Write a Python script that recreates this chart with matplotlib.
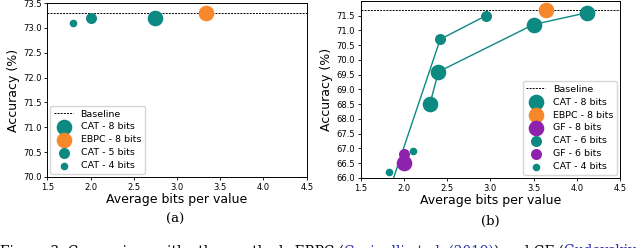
import matplotlib
matplotlib.use("Agg")
import matplotlib.pyplot as plt

teal = "#0c8a82"
orange = "#f7872b"
purple = "#8e22ad"

# panel (a)
a_baseline = 73.3
a_cat8_x, a_cat8_y = [2.75], [73.2]
a_ebpc8_x, a_ebpc8_y = [3.33], [73.3]
a_cat5_x, a_cat5_y = [2.0], [73.2]
a_cat4_x, a_cat4_y = [1.8], [73.1]

# panel (b)
b_baseline = 71.7
b_cat8_x = [2.3, 2.4, 3.5, 4.12]
b_cat8_y = [68.5, 69.6, 71.2, 71.6]
b_ebpc8_x, b_ebpc8_y = [3.64], [71.7]
b_gf8_x, b_gf8_y = [2.0], [66.5]
b_cat6_x = [1.8, 2.42, 2.95]
b_cat6_y = [65.3, 70.7, 71.5]
b_gf6_x, b_gf6_y = [2.0, 2.0], [66.8, 66.6]
b_cat4_x, b_cat4_y = [1.83, 2.1], [66.2, 66.9]

s_big, s_mid, s_small = 105, 48, 20

fig = plt.figure(figsize=(6.4, 2.48), dpi=100)
ax1 = fig.add_axes([0.0742, 0.2863, 0.405, 0.7016])
ax2 = fig.add_axes([0.5636, 0.2823, 0.405, 0.714])

ax1.axhline(a_baseline, color="k", ls="--", lw=0.7, dashes=(2, 1.2), label="Baseline")
ax1.scatter(a_cat8_x, a_cat8_y, s=s_big, color=teal, label="CAT - 8 bits", zorder=3)
ax1.scatter(a_ebpc8_x, a_ebpc8_y, s=s_big, color=orange, label="EBPC - 8 bits", zorder=3)
ax1.scatter(a_cat5_x, a_cat5_y, s=s_mid, color=teal, label="CAT - 5 bits", zorder=3)
ax1.scatter(a_cat4_x, a_cat4_y, s=s_small, color=teal, label="CAT - 4 bits", zorder=3)
ax1.set_xlim(1.5, 4.5)
ax1.set_ylim(70.0, 73.5)
ax1.set_yticks([70.0, 70.5, 71.0, 71.5, 72.0, 72.5, 73.0, 73.5])

ax2.axhline(b_baseline, color="k", ls="--", lw=0.7, dashes=(2, 1.2), label="Baseline")
ax2.plot(b_cat8_x, b_cat8_y, color=teal, lw=1.0, zorder=2)
ax2.plot(b_cat6_x, b_cat6_y, color=teal, lw=1.0, zorder=2)
ax2.scatter(b_cat8_x, b_cat8_y, s=s_big, color=teal, label="CAT - 8 bits", zorder=3)
ax2.scatter(b_ebpc8_x, b_ebpc8_y, s=s_big, color=orange, label="EBPC - 8 bits", zorder=3)
ax2.scatter(b_gf8_x, b_gf8_y, s=s_big, color=purple, label="GF - 8 bits", zorder=3)
ax2.scatter(b_cat6_x, b_cat6_y, s=s_mid, color=teal, label="CAT - 6 bits", zorder=3)
ax2.scatter(b_gf6_x, b_gf6_y, s=s_mid, color=purple, label="GF - 6 bits", zorder=3)
ax2.scatter(b_cat4_x, b_cat4_y, s=s_small, color=teal, label="CAT - 4 bits", zorder=3)
ax2.set_xlim(1.5, 4.5)
ax2.set_ylim(66.0, 72.0)
ax2.set_yticks([66.0 + 0.5 * i for i in range(12)])

for ax, loc in [(ax1, "lower left"), (ax2, "lower right")]:
    ax.set_xticks([1.5, 2.0, 2.5, 3.0, 3.5, 4.0, 4.5])
    ax.xaxis.set_major_formatter(matplotlib.ticker.FormatStrFormatter("%.1f"))
    ax.yaxis.set_major_formatter(matplotlib.ticker.FormatStrFormatter("%.1f"))
    ax.tick_params(labelsize=6, length=2.5, width=0.6, pad=1.5)
    ax.set_xlabel("Average bits per value", fontsize=9, labelpad=1)
    ax.set_ylabel("Accuracy (%)", fontsize=9)
    ax.yaxis.set_label_coords(-0.107, 0.5)
    for sp in ax.spines.values():
        sp.set_linewidth(0.7)
    ax.legend(loc=loc, fontsize=6.8, borderaxespad=0.3, handletextpad=0.8,
              labelspacing=0.42, borderpad=0.4, framealpha=0.8)

fig.text(0.2742, 1 - 219 / 248, "(a)", ha="center", va="center", fontsize=9.5, family="DejaVu Serif")
fig.text(0.7660, 1 - 221 / 248, "(b)", ha="center", va="center", fontsize=9.5, family="DejaVu Serif")

# cut-off caption line at the bottom
parts = [("Figure 3: Comparison with other methods EBPC (", "k"),
         ("Cavigelli et al. (2019)", "#2a2ab0"),
         (") and GF (", "k"),
         ("Gudovskiy et al.", "#2a2ab0")]
fig.canvas.draw()
renderer = fig.canvas.get_renderer()
x = 0.0
for txt, col in parts:
    t = fig.text(x, 1 - 244.5 / 248, txt, ha="left", va="top", fontsize=9.8,
                 family="DejaVu Serif", color=col)
    bb = t.get_window_extent(renderer)
    x += bb.width / fig.bbox.width

fig.savefig("out.png", dpi=100)
